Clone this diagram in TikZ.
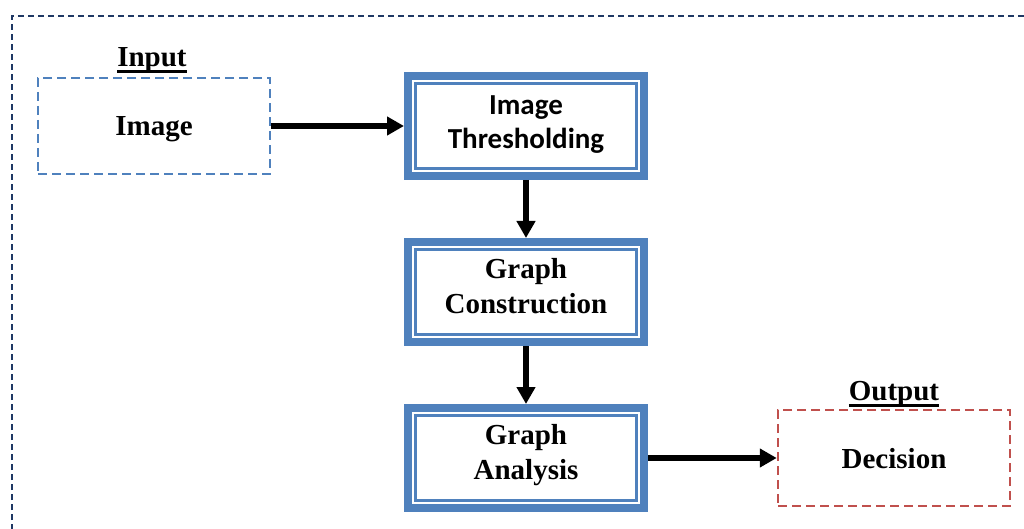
\documentclass[tikz,border=0pt]{standalone}
\usepackage{fontspec}
\setmainfont{Liberation Serif}
\newfontfamily\calibri{Carlito}
\usetikzlibrary{arrows.meta,calc}
\definecolor{frameblue}{HTML}{4F81BD}
\definecolor{navy}{HTML}{1F3864}
\definecolor{redline}{HTML}{C0504D}
% heavy underline for the headings
\newcommand\headul[1]{\setbox0\hbox{#1}\rlap{\rule[-6.5pt]{\wd0}{3pt}}\box0}

\begin{document}
\begin{tikzpicture}[x=1pt,y=-1pt,
  every node/.style={font=\bfseries\fontsize{29}{35}\selectfont, align=center},
  iobox/.style={draw, line width=2.5pt, dash pattern=on 9pt off 5pt,
    minimum width=232pt, minimum height=96pt, inner sep=0pt, text depth=-1.5pt},
  procbox/.style={draw=frameblue, line width=8pt, minimum width=236pt,
    minimum height=100pt, inner sep=0pt, text depth=13pt,
    path picture={\draw[frameblue, line width=2.3pt]
      ($(path picture bounding box.north west)+(7.5,7.5)$) rectangle
      ($(path picture bounding box.south east)+(-7.5,-7.5)$);}},
  flow/.style={line width=5.5pt, -{Triangle[length=17pt,width=18pt]}},
  heading/.style={anchor=base}
]
\useasboundingbox (0,0) rectangle (1024,529);

% outer dashed frame
\draw[navy, line width=2pt, dash pattern=on 6pt off 4pt]
  (12,540) -- (12,16) -- (1040,16);

% input and output
\node[heading] (inlbl) at (152,66.5) {\headul{Input}};
\node[iobox, draw=frameblue] (img) at (154,126) {Image};
\node[heading] (outlbl) at (894,400.5) {\headul{Output}};
\node[iobox, draw=redline] (dec) at (894,458) {Decision};

% processing stages
\node[procbox, text depth=8pt, font=\calibri\bfseries\fontsize{29}{34}\selectfont]
  (thr) at (526,126) {Image\\Thresholding};
\node[procbox] (con) at (526,292) {Graph\\Construction};
\node[procbox] (ana) at (526,458) {Graph\\Analysis};

% connectors
\draw[flow] (img) -- (thr);
\draw[flow] (thr) -- (con);
\draw[flow] (con) -- (ana);
\draw[flow] (ana.east |- dec.west) -- (dec.west);
\end{tikzpicture}
\end{document}
